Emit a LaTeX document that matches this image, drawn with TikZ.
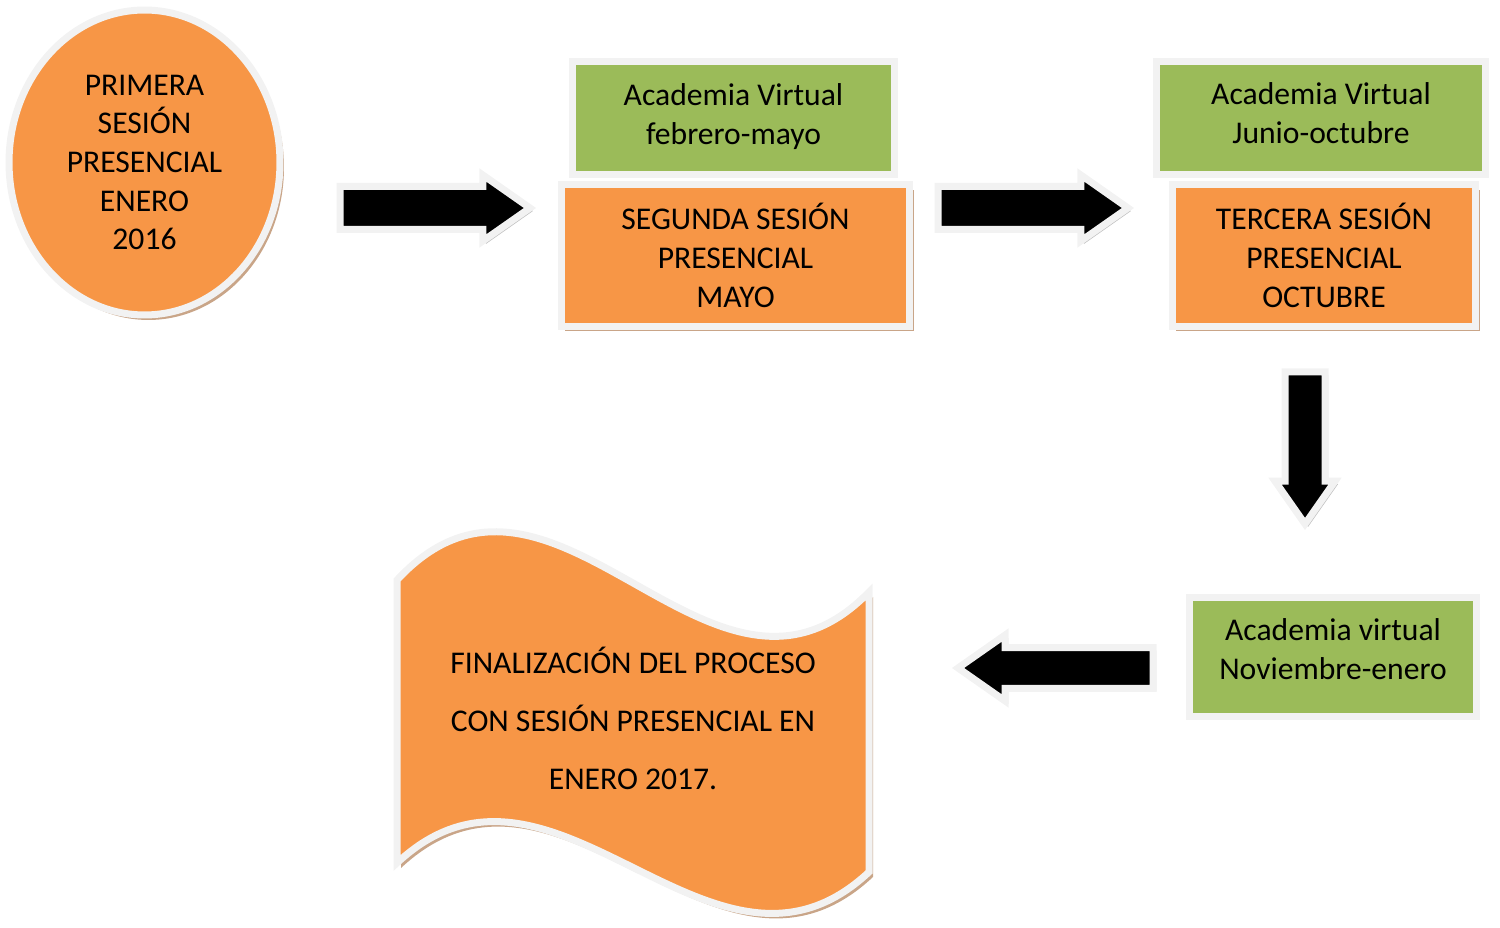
\documentclass[tikz,border=0pt]{standalone}
\usepackage{fontspec}
\setmainfont{Carlito}
\usetikzlibrary{positioning,shapes.geometric,shapes.arrows,shadows}
\definecolor{naranja}{HTML}{F79646}
\definecolor{verde}{HTML}{9BBB59}
\definecolor{borde}{HTML}{F2F2F2}
\definecolor{sombra}{HTML}{C9A588}
\definecolor{sombraverde}{HTML}{A8B394}
\definecolor{sombragris}{HTML}{BFBFBF}

\begin{document}
\begin{tikzpicture}[x=0.02cm, y=-0.02cm,
  caja/.style={draw=borde, line width=0.14cm, inner sep=0pt, align=center,
    font=\fontsize{18}{22}\selectfont},
  sesion/.style={caja, fill=naranja,
    drop shadow={shadow xshift=0.08cm, shadow yshift=-0.1cm, fill=sombra, opacity=1}},
  virtual/.style={caja, fill=verde,
    drop shadow={shadow xshift=0.06cm, shadow yshift=-0.06cm, fill=sombraverde, opacity=1}},
  flecha/.style={single arrow, draw=borde, fill=black, line width=0.14cm,
    single arrow tip angle=70, anchor=tail,
    drop shadow={shadow xshift=0.06cm, shadow yshift=-0.06cm, fill=sombragris, opacity=1}}
]
\useasboundingbox (0,0) rectangle (1500,928);

% Primera sesion
\node[sesion, ellipse, minimum width=5.42cm, minimum height=6.1cm] (s1) at (144.5,162.5)
  {PRIMERA\\SESIÓN\\PRESENCIAL\\ENERO\\2016};

% Segunda sesion con su academia virtual
\node[virtual, minimum width=6.44cm, minimum height=2.27cm, text depth=0.16cm] (v1) at (733.5,118)
  {Academia Virtual\\febrero-mayo};
\node[sesion, minimum width=6.98cm, minimum height=2.84cm] (s2) at (735.5,255.5)
  {SEGUNDA SESIÓN\\PRESENCIAL\\MAYO};

% Tercera sesion con su academia virtual
\node[virtual, minimum width=6.57cm, minimum height=2.27cm, text depth=0.19cm] (v2) at (1321,118)
  {Academia Virtual\\Junio-octubre};
\node[sesion, minimum width=6.08cm, minimum height=2.84cm] (s3) at (1324,255.5)
  {TERCERA SESIÓN\\PRESENCIAL\\OCTUBRE};

% Ultima academia virtual
\node[virtual, minimum width=5.76cm, minimum height=2.37cm, text depth=0.31cm] (v3) at (1333,657)
  {Academia virtual\\Noviembre-enero};

% Bandera final
\draw[draw=borde, line width=0.14cm, fill=naranja,
    drop shadow={shadow xshift=0.08cm, shadow yshift=-0.1cm, fill=sombra, opacity=1}]
  (397,580) .. controls (554,411) and (712,753) .. (869,592) -- (869,872)
  .. controls (712,1019) and (554,716) .. (397,863) -- cycle;
\node[align=center, font=\fontsize{18}{33}\selectfont] (fin) at (633,718)
  {FINALIZACIÓN DEL PROCESO\\CON SESIÓN PRESENCIAL EN\\ENERO 2017.};

% Flechas
\node[flecha, inner sep=0.36cm, minimum height=3.8cm, single arrow head extend=0.23cm]
  (f1) at (336.5,208) {};
\node[flecha, inner sep=0.36cm, minimum height=3.8cm, single arrow head extend=0.23cm]
  (f2) at (934.5,208) {};
\node[flecha, shape border rotate=270, inner sep=0.33cm, minimum height=3.04cm,
  single arrow head extend=0.2cm] (f3) at (1305,368.5) {};
\node[flecha, shape border rotate=180, inner sep=0.34cm, minimum height=3.9cm,
  single arrow head extend=0.25cm] (f4) at (1156.5,668) {};
\end{tikzpicture}
\end{document}
